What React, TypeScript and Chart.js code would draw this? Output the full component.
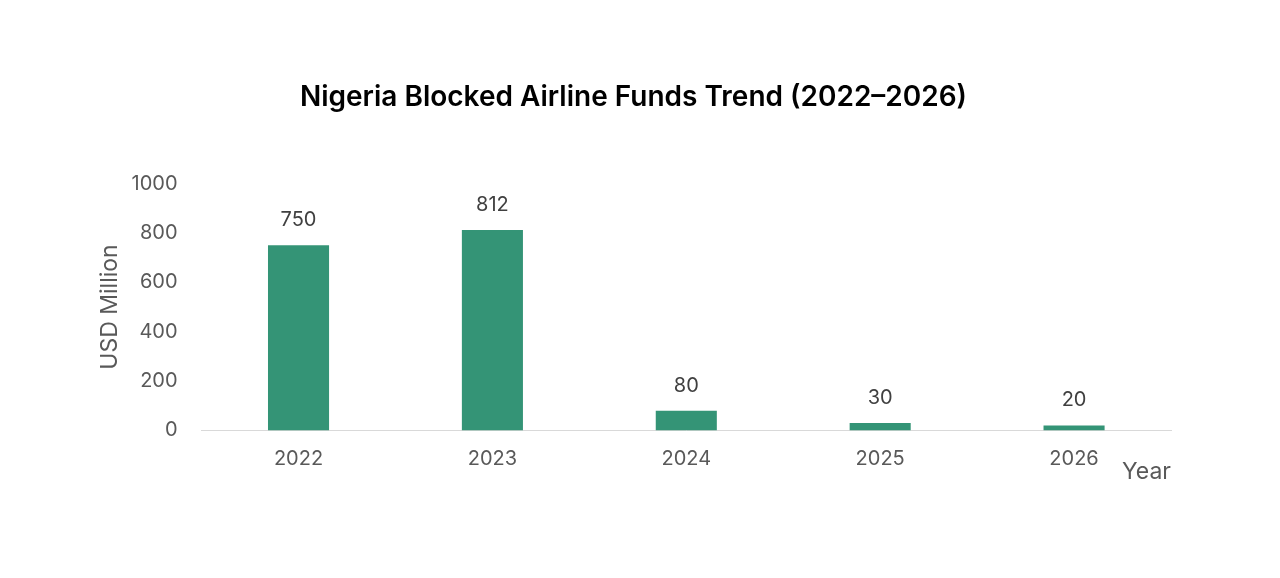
import { Chart, registerables } from "chart.js";
import React, { useEffect, useRef } from "react";

Chart.register(...registerables);

const years = ["2022", "2023", "2024", "2025", "2026"];
const blockedFunds = [750, 812, 80, 30, 20];
const yTicks = [0, 200, 400, 600, 800, 1000];

const barLabels = {
  id: "barLabels",
  afterDatasetsDraw(chart: Chart) {
    const { ctx } = chart;
    const meta = chart.getDatasetMeta(0);
    ctx.save();
    ctx.font = "20px Inter";
    ctx.fillStyle = "#404040";
    ctx.textAlign = "center";
    ctx.textBaseline = "middle";
    meta.data.forEach((bar: any, i: number) => {
      ctx.fillText(String(blockedFunds[i]), bar.x, bar.y - 25);
    });
    ctx.restore();
  },
};

const App = () => {
  const chartRef = useRef<HTMLCanvasElement>(null);

  useEffect(() => {
    document.body.style.margin = "0";
    if (!chartRef.current) throw new Error("missing canvas");
    const chart = new Chart(chartRef.current, {
      type: "bar",
      data: {
        labels: years,
        datasets: [
          {
            label: "Blocked funds",
            data: blockedFunds,
            backgroundColor: "#349476",
            barPercentage: 0.63,
            categoryPercentage: 0.5,
          },
        ],
      },
      plugins: [barLabels],
      options: {
        animation: false,
        responsive: false,
        layout: { padding: { left: 96, right: 109, top: 81, bottom: 92 } },
        plugins: {
          legend: { display: false },
          tooltip: { enabled: false },
          title: {
            display: true,
            text: "Nigeria Blocked Airline Funds Trend (2022–2026)",
            color: "#000000",
            font: { family: "Inter", size: 28, weight: 600 },
            padding: { top: 0, bottom: 69 },
          },
        },
        scales: {
          x: {
            grid: { display: false, drawTicks: false },
            border: { color: "#d9d9d9", width: 1 },
            ticks: { color: "#595959", font: { family: "Inter", size: 20 }, padding: 17 },
            title: {
              display: true,
              text: "Year",
              align: "end",
              color: "#595959",
              font: { family: "Inter", size: 23 },
              padding: { top: -30, bottom: 0 },
            },
          },
          y: {
            min: 0,
            max: 1000,
            afterBuildTicks: (axis: any) => {
              axis.ticks = yTicks.map((v) => ({ value: v }));
            },
            grid: { display: false, drawTicks: false },
            border: { display: false },
            ticks: {
              color: "#595959",
              font: { family: "Inter", size: 20 },
              padding: 24,
              callback: (v: any) => String(v),
            },
            title: {
              display: true,
              text: "USD Million",
              color: "#595959",
              font: { family: "Inter", size: 23 },
              padding: { top: 0, bottom: -16 },
            },
          },
        },
      },
    });
    return () => chart.destroy();
  }, []);

  return (
    <div style={{ width: 1280, height: 578, background: "#ffffff" }}>
      <canvas ref={chartRef} width={1280} height={578}></canvas>
    </div>
  );
};

export default App;
